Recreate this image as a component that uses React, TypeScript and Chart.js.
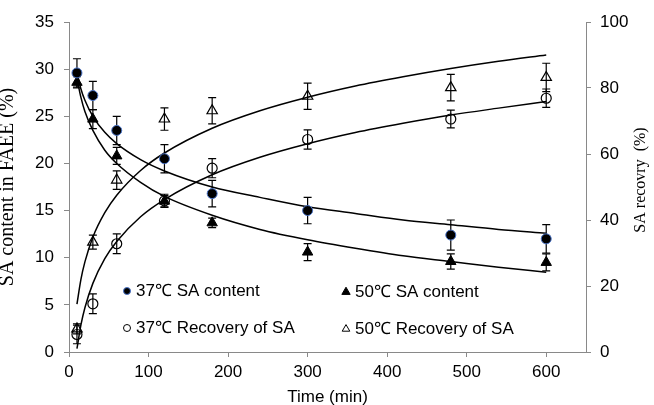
import React, { useEffect, useRef } from 'react';
import { Chart, registerables } from 'chart.js';

Chart.register(...registerables);

// ---- data ----
const times = [10, 30, 60, 120, 180, 300, 480, 600];

const content37 = [29.6, 27.2, 23.5, 20.5, 16.8, 15.0, 12.4, 12.0];
const content37Err = [1.5, 1.5, 1.5, 1.5, 1.4, 1.4, 1.6, 1.5];

const content50 = [28.6, 24.7, 20.8, 16.0, 13.7, 10.6, 9.6, 9.5];
const content50Err = [0.6, 1.0, 0.9, 0.6, 0.5, 0.9, 0.8, 0.9];

const recovery37 = [5.3, 14.6, 32.8, 45.8, 55.7, 64.4, 70.6, 76.9];
const recovery37Err = [2.8, 3.0, 3.0, 2.0, 2.9, 2.9, 2.7, 2.8];

const recovery50 = [7.0, 33.3, 52.1, 70.6, 73.1, 77.5, 80.1, 83.2];
const recovery50Err = [1.5, 2.1, 2.8, 3.4, 4.0, 4.0, 4.0, 4.3];

// trend curves, read at sample times
const fitTimes = [10, 15, 20, 30, 45, 60, 90, 120, 180, 240, 300, 360, 420, 480, 540, 600];
const fitContent37 = [29.7, 27.9, 26.7, 25.0, 23.3, 22.1, 20.4, 19.2, 17.5, 16.4, 15.4, 14.7, 14.0, 13.5, 13.0, 12.6];
const fitContent50 = [29.0, 27.0, 25.5, 23.5, 21.4, 20.0, 18.0, 16.5, 14.5, 13.0, 11.9, 11.0, 10.2, 9.6, 9.0, 8.45];
const fitRecovery37 = [1.0, 8.2, 13.4, 20.8, 28.3, 33.5, 41.0, 46.2, 53.7, 59.0, 63.1, 66.5, 69.3, 71.8, 73.9, 75.9];
const fitRecovery50 = [14.5, 22.0, 27.3, 34.8, 42.2, 47.5, 55.0, 60.3, 67.8, 73.1, 77.2, 80.6, 83.4, 85.9, 88.1, 90.0];

const xTicks = [0, 100, 200, 300, 400, 500, 600];
const leftTicks = [0, 5, 10, 15, 20, 25, 30, 35];
const rightTicks = [0, 20, 40, 60, 80, 100];

const legendLabels = ['37℃ SA content', '50℃ SA content', '37℃ Recovery of SA', '50℃ Recovery of SA'];
const xTitle = 'Time (min)';
const leftTitle = 'SA content in FAEE (%)';
const rightTitle = 'SA recovry  (%)';

// ---- styles ----
const SANS = '"Liberation Sans", Arial, sans-serif';
const SERIF = '"Liberation Serif", "Times New Roman", serif';
const AXIS = '#898989';
const BLUE = '#4a74c9';

function pts(xs: number[], ys: number[]) {
  return xs.map((x, i) => ({ x, y: ys[i] }));
}

function drawMarker(ctx: CanvasRenderingContext2D, kind: string, x: number, y: number, r: number) {
  ctx.save();
  ctx.lineWidth = 1;
  ctx.beginPath();
  if (kind === 'fcircle' || kind === 'ocircle') {
    ctx.arc(x, y, r, 0, Math.PI * 2);
  } else {
    ctx.moveTo(x, y - r);
    ctx.lineTo(x + r * 0.866, y + r * 0.5);
    ctx.lineTo(x - r * 0.866, y + r * 0.5);
    ctx.closePath();
  }
  if (kind === 'fcircle') {
    ctx.fillStyle = '#000';
    ctx.fill();
    ctx.strokeStyle = BLUE;
    ctx.stroke();
  } else if (kind === 'ftri') {
    ctx.fillStyle = '#000';
    ctx.fill();
    ctx.strokeStyle = '#000';
    ctx.stroke();
  } else {
    ctx.strokeStyle = '#000';
    ctx.stroke();
  }
  ctx.restore();
}

const errorBarPlugin = {
  id: 'errorBars',
  beforeDatasetsDraw(chart: any) {
    const ctx = chart.ctx;
    chart.data.datasets.forEach((ds: any, di: number) => {
      if (!ds.errors) return;
      const meta = chart.getDatasetMeta(di);
      const yScale = chart.scales[meta.yAxisID];
      ctx.save();
      ctx.strokeStyle = '#000';
      ctx.lineWidth = 1.2;
      meta.data.forEach((pt: any, i: number) => {
        const v = ds.data[i].y;
        const e = ds.errors[i];
        const x = pt.x;
        const y1 = yScale.getPixelForValue(v + e);
        const y2 = yScale.getPixelForValue(v - e);
        ctx.beginPath();
        ctx.moveTo(x, y1);
        ctx.lineTo(x, y2);
        ctx.moveTo(x - 4, y1);
        ctx.lineTo(x + 4, y1);
        ctx.moveTo(x - 4, y2);
        ctx.lineTo(x + 4, y2);
        ctx.stroke();
      });
      ctx.restore();
    });
  },
};

const overlayPlugin = {
  id: 'overlay',
  afterDraw(chart: any) {
    const ctx: CanvasRenderingContext2D = chart.ctx;
    // right axis title (reads bottom to top)
    ctx.save();
    ctx.font = `16px ${SERIF}`;
    ctx.fillStyle = '#000';
    ctx.textAlign = 'center';
    ctx.textBaseline = 'middle';
    ctx.translate(641, 180);
    ctx.rotate(-Math.PI / 2);
    ctx.fillText(rightTitle, 0, 0);
    ctx.restore();

    // legend inside the plot
    const items = [
      { kind: 'fcircle', r: 3.5, x: 127, y: 291, label: legendLabels[0] },
      { kind: 'ftri', r: 4.8, x: 346, y: 292, label: legendLabels[1] },
      { kind: 'ocircle', r: 3.5, x: 127, y: 328, label: legendLabels[2] },
      { kind: 'otri', r: 4.4, x: 346, y: 329, label: legendLabels[3] },
    ];
    ctx.save();
    ctx.font = `17px ${SANS}`;
    ctx.fillStyle = '#000';
    ctx.textAlign = 'left';
    ctx.textBaseline = 'middle';
    items.forEach((it) => {
      drawMarker(ctx, it.kind, it.x, it.y, it.r);
      ctx.fillStyle = '#000';
      ctx.fillText(it.label, it.x + 9, it.y);
    });
    ctx.restore();
  },
};

export default function App() {
  const ref = useRef<HTMLCanvasElement>(null);

  useEffect(() => {
    if (!ref.current) return;
    const curve = (data: number[], axis: string) => ({
      type: 'line',
      data: pts(fitTimes, data),
      yAxisID: axis,
      showLine: true,
      pointRadius: 0,
      borderColor: '#000',
      borderWidth: 1.5,
      fill: false,
      cubicInterpolationMode: 'monotone',
    });

    const chart = new Chart(ref.current, {
      type: 'scatter',
      data: {
        datasets: [
          {
            label: legendLabels[0],
            data: pts(times, content37),
            yAxisID: 'y',
            pointStyle: 'circle',
            pointRadius: 5,
            pointBackgroundColor: '#000',
            pointBorderColor: BLUE,
            pointBorderWidth: 1,
            showLine: false,
            errors: content37Err,
          } as any,
          {
            label: legendLabels[1],
            data: pts(times, content50),
            yAxisID: 'y',
            pointStyle: 'triangle',
            pointRadius: 6,
            pointBackgroundColor: '#000',
            pointBorderColor: '#000',
            pointBorderWidth: 1,
            showLine: false,
            errors: content50Err,
          } as any,
          {
            label: legendLabels[2],
            data: pts(times, recovery37),
            yAxisID: 'y2',
            pointStyle: 'circle',
            pointRadius: 5,
            pointBackgroundColor: 'rgba(0,0,0,0)',
            pointBorderColor: '#000',
            pointBorderWidth: 1.2,
            showLine: false,
            errors: recovery37Err,
          } as any,
          {
            label: legendLabels[3],
            data: pts(times, recovery50),
            yAxisID: 'y2',
            pointStyle: 'triangle',
            pointRadius: 6,
            pointBackgroundColor: 'rgba(0,0,0,0)',
            pointBorderColor: '#000',
            pointBorderWidth: 1.2,
            showLine: false,
            errors: recovery50Err,
          } as any,
          curve(fitContent37, 'y') as any,
          curve(fitContent50, 'y') as any,
          curve(fitRecovery37, 'y2') as any,
          curve(fitRecovery50, 'y2') as any,
        ],
      },
      options: {
        animation: false,
        responsive: false,
        devicePixelRatio: 1,
        layout: { padding: { top: 22, left: 0, right: 0, bottom: 0 } },
        plugins: {
          legend: { display: false },
          tooltip: { enabled: false },
        },
        scales: {
          x: {
            type: 'linear',
            position: 'bottom',
            min: 0,
            max: 650,
            afterBuildTicks: (s: any) => {
              s.ticks = xTicks.map((value) => ({ value }));
            },
            afterFit: (s: any) => {
              s.height = 53;
            },
            grid: { drawOnChartArea: false, drawTicks: true, tickLength: 5, color: AXIS },
            border: { display: true, color: AXIS, width: 1 },
            ticks: { font: { family: SANS, size: 17 }, color: '#000', padding: 5, maxRotation: 0, autoSkip: false },
            title: {
              display: true,
              text: xTitle,
              color: '#000',
              font: { family: SANS, size: 17, lineHeight: 0.9 },
              padding: 0,
            },
          },
          y: {
            type: 'linear',
            position: 'left',
            min: 0,
            max: 35,
            afterBuildTicks: (s: any) => {
              s.ticks = leftTicks.map((value) => ({ value }));
            },
            afterFit: (s: any) => {
              s.width = 69;
            },
            grid: { drawOnChartArea: false, drawTicks: true, tickLength: 5, color: AXIS },
            border: { display: true, color: AXIS, width: 1 },
            ticks: { font: { family: SANS, size: 17 }, color: '#000', padding: 10 },
            title: {
              display: true,
              text: leftTitle,
              color: '#000',
              font: { family: SERIF, size: 20, lineHeight: 0.8 },
              padding: 0,
            },
          },
          y2: {
            type: 'linear',
            position: 'right',
            min: 0,
            max: 100,
            afterBuildTicks: (s: any) => {
              s.ticks = rightTicks.map((value) => ({ value }));
            },
            afterFit: (s: any) => {
              s.width = 68;
            },
            grid: { drawOnChartArea: false, drawTicks: true, tickLength: 5, color: AXIS },
            border: { display: true, color: AXIS, width: 1 },
            ticks: { font: { family: SANS, size: 17 }, color: '#000', padding: 9 },
          },
        },
      } as any,
      plugins: [errorBarPlugin, overlayPlugin],
    });
    return () => chart.destroy();
  }, []);

  return (
    <div style={{ position: 'absolute', left: 0, top: 0, width: 654, height: 405, background: '#fff' }}>
      <canvas ref={ref} width={654} height={405} style={{ width: 654, height: 405 }} />
    </div>
  );
}
